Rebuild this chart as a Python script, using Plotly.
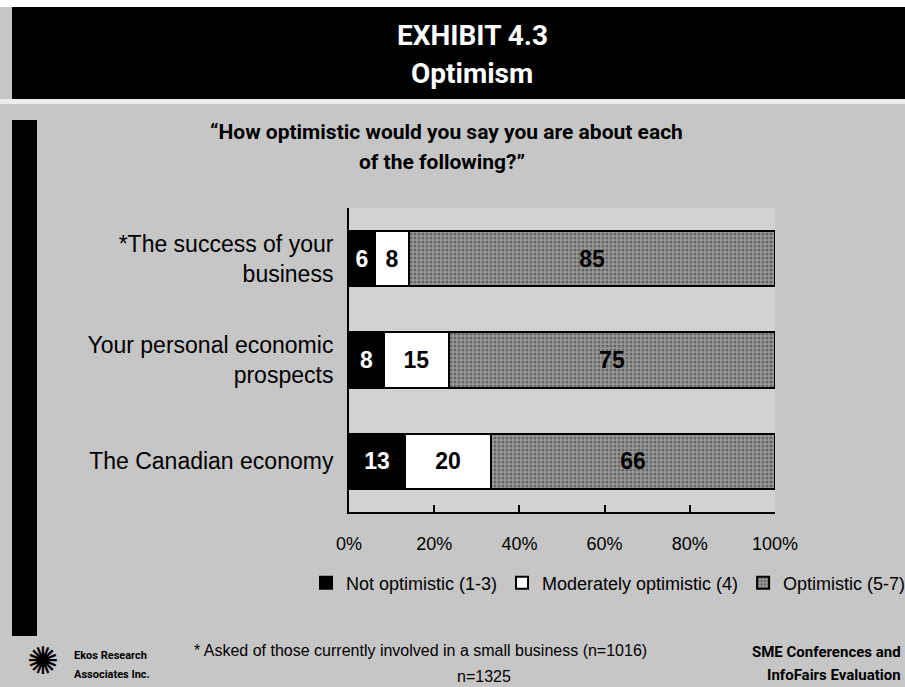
import plotly.graph_objects as go

# Survey results: share of respondents by optimism level
categories = [
    "*The success of your<br>business",
    "Your personal economic<br>prospects",
    "The Canadian economy",
]
not_optimistic = [6, 8, 13]
moderately_optimistic = [8, 15, 20]
optimistic = [85, 75, 66]
series_names = ["Not optimistic (1-3)", "Moderately optimistic (4)", "Optimistic (5-7)"]
x_tick_values = [0, 20, 40, 60, 80, 100]
x_tick_labels = ["0%", "20%", "40%", "60%", "80%", "100%"]

# Canvas and plot-area geometry (pixels)
W, H = 905, 687
L, R, T, B = 349, 775, 208, 512


def px(x):
    return (x - L) / (R - L)


def py(y):
    return (B - y) / (B - T)


PAPER = "#c6c6c6"
PLOT = "#d2d2d2"
LABEL_FONT = "Liberation Sans, Arial, sans-serif"
HEAD_FONT = "Roboto, Liberation Sans, sans-serif"

fig = go.Figure()

series = [
    (not_optimistic, series_names[0], "#000000", "#ffffff", None),
    (moderately_optimistic, series_names[1], "#ffffff", "#000000", None),
    (optimistic, series_names[2], "#9a9a9a", "#000000",
     dict(shape=".", fgcolor="#303030", size=4, solidity=0.45)),
]
for values, name, color, text_color, pattern in series:
    marker = dict(color=color, line=dict(color="#000000", width=2))
    if pattern:
        marker["pattern"] = pattern
    fig.add_trace(go.Bar(
        y=categories,
        x=values,
        name=name,
        orientation="h",
        marker=marker,
        text=values,
        texttemplate="<b>%{text}</b>",
        textposition="inside",
        insidetextanchor="middle",
        constraintext="none",
        textfont=dict(family=LABEL_FONT, size=23, color=text_color),
        hoverinfo="skip",
    ))

shapes = [
    # white strip along the top edge
    dict(type="rect", xref="paper", yref="paper", x0=px(0), x1=px(W), y0=py(0), y1=py(7),
         fillcolor="#ffffff", line=dict(width=0), layer="below"),
    # black title banner
    dict(type="rect", xref="paper", yref="paper", x0=px(12), x1=px(W), y0=py(7), y1=py(99),
         fillcolor="#000000", line=dict(width=0), layer="below"),
    # pale gap beneath the banner
    dict(type="rect", xref="paper", yref="paper", x0=px(0), x1=px(W), y0=py(99), y1=py(104),
         fillcolor="#ededed", line=dict(width=0), layer="below"),
    # black bar on the left edge
    dict(type="rect", xref="paper", yref="paper", x0=px(12), x1=px(37), y0=py(120), y1=py(636),
         fillcolor="#000000", line=dict(width=0), layer="below"),
]


def note(text, x, y, size, family=LABEL_FONT, color="#000000", xanchor="center"):
    return dict(text=text, x=px(x), y=py(y), xref="paper", yref="paper",
                xanchor=xanchor, yanchor="middle", showarrow=False,
                font=dict(family=family, size=size, color=color))


annotations = [
    note("<b>EXHIBIT 4.3</b>", 472, 36, 28, HEAD_FONT, "#ffffff"),
    note("<b>Optimism</b>", 472, 74, 28, HEAD_FONT, "#ffffff"),
    note("<b>\u201cHow optimistic would you say you are about each</b>", 446, 132, 21, HEAD_FONT),
    note("<b>of the following?\u201d</b>", 442, 162, 21, HEAD_FONT),
    note("* Asked of those currently involved in a small business (n=1016)", 192, 650, 16,
         xanchor="left"),
    note("n=1325", 484, 676, 16),
    note("<b>SME Conferences and</b>", 903, 652, 15, HEAD_FONT, xanchor="right"),
    note("<b>InfoFairs Evaluation</b>", 903, 675, 15, HEAD_FONT, xanchor="right"),
    note("<b>Ekos Research</b>", 72, 655, 11, HEAD_FONT, xanchor="left"),
    note("<b>Associates Inc.</b>", 72, 674, 11, HEAD_FONT, xanchor="left"),
    note("\u273a", 43, 661, 38, "DejaVu Sans"),
]

fig.update_layout(
    width=W,
    height=H,
    margin=dict(l=L, r=W - R, t=T, b=H - B, pad=0, autoexpand=False),
    paper_bgcolor=PAPER,
    plot_bgcolor=PLOT,
    barmode="stack",
    barnorm="percent",
    bargap=0.455,
    uniformtext=dict(minsize=23, mode="show"),
    showlegend=True,
    legend=dict(
        orientation="h",
        x=px(306), xanchor="left",
        y=py(583), yanchor="middle",
        bgcolor="rgba(0,0,0,0)",
        font=dict(family=LABEL_FONT, size=18, color="#000000"),
        itemwidth=30,
        traceorder="normal",
    ),
    xaxis=dict(
        range=[0, 100],
        tickvals=x_tick_values,
        ticktext=x_tick_labels,
        ticks="inside",
        ticklen=7,
        tickwidth=2,
        tickcolor="#000000",
        ticklabelstandoff=14,
        showline=True,
        linecolor="#000000",
        linewidth=2,
        showgrid=False,
        zeroline=False,
        automargin=False,
        tickfont=dict(family=LABEL_FONT, size=18, color="#000000"),
        fixedrange=True,
    ),
    yaxis=dict(
        categoryorder="array",
        categoryarray=categories,
        autorange="reversed",
        showline=True,
        linecolor="#000000",
        linewidth=2,
        showgrid=False,
        zeroline=False,
        automargin=False,
        ticks="",
        ticklabelstandoff=9,
        tickfont=dict(family=LABEL_FONT, size=23, color="#000000"),
        fixedrange=True,
    ),
    shapes=shapes,
    annotations=annotations,
)

fig.write_html("out.html")
